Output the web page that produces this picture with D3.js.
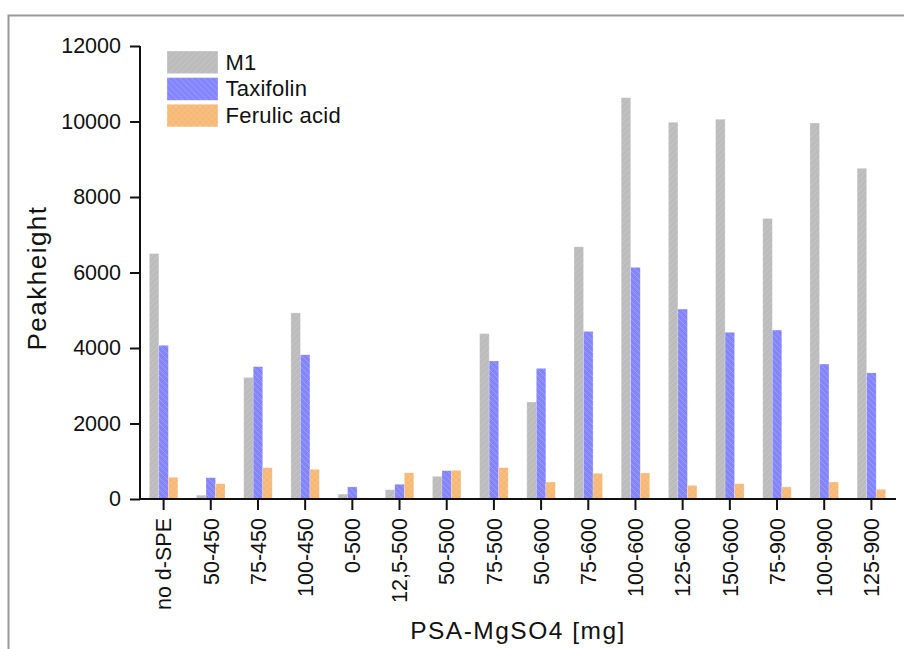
<!DOCTYPE html>
<html>
<head>
<meta charset="utf-8">
<script src="https://cdn.jsdelivr.net/npm/d3@7"></script>
<style>
  html, body { margin: 0; padding: 0; background: #fff; }
  svg { display: block; }
  text { font-family: "Liberation Sans", Arial, sans-serif; fill: #111; }
</style>
</head>
<body>
<svg id="chart" width="904" height="649"></svg>
<script>
// PSA-MgSO4 combinations (mg) used for the clean-up
const categories = ["no d-SPE", "50-450", "75-450", "100-450", "0-500", "12,5-500", "50-500",
  "75-500", "50-600", "75-600", "100-600", "125-600", "150-600", "75-900", "100-900", "125-900"];

// Peak heights per analyte
const m1 = [6500, 100, 3220, 4930, 130, 245, 600, 4380, 2570, 6680, 10630, 9980, 10060, 7430, 9960, 8760];
const taxifolin = [4070, 565, 3505, 3820, 320, 390, 750, 3655, 3460, 4440, 6135, 5030, 4415, 4475, 3575, 3340];
const ferulic = [575, 405, 830, 785, 30, 695, 760, 830, 450, 680, 690, 360, 405, 320, 450, 257];

const seriesNames = ["M1", "Taxifolin", "Ferulic acid"];
const yTicks = [0, 2000, 4000, 6000, 8000, 10000, 12000];

const series = [
  { name: seriesNames[0], values: m1, fill: "url(#hatch-gray)" },
  { name: seriesNames[1], values: taxifolin, fill: "url(#hatch-blue)" },
  { name: seriesNames[2], values: ferulic, fill: "url(#hatch-orange)" }
];

const svg = d3.select("#chart");
const defs = svg.append("defs");

// Hatched fills
function diagPattern(id, base, line, dir) {
  const p = defs.append("pattern").attr("id", id).attr("patternUnits", "userSpaceOnUse")
    .attr("width", 6).attr("height", 6);
  p.append("rect").attr("width", 6).attr("height", 6).attr("fill", base);
  const d = dir > 0 ? "M-1,7 L7,-1 M-4,4 L4,-4 M2,10 L10,2" : "M-1,-1 L7,7 M-4,2 L4,10 M2,-4 L10,4";
  p.append("path").attr("d", d).attr("stroke", line).attr("stroke-width", 0.8).attr("fill", "none");
}
diagPattern("hatch-gray", "#bcbcbc", "#c9c9c9", 1);
diagPattern("hatch-blue", "#8484fb", "#a3a3ff", -1);
(function () {
  const p = defs.append("pattern").attr("id", "hatch-orange").attr("patternUnits", "userSpaceOnUse")
    .attr("width", 6).attr("height", 6);
  p.append("rect").attr("width", 6).attr("height", 6).attr("fill", "#f6b876");
  p.append("path").attr("d", "M-1,7 L7,-1 M-1,-1 L7,7").attr("stroke", "#f9c791")
    .attr("stroke-width", 0.6).attr("fill", "none");
})();

// Outer frame
svg.append("path").attr("d", "M8.5,649 L8.5,15.5 L904,15.5")
  .attr("fill", "none").attr("stroke", "#999").attr("stroke-width", 2);

const plot = { left: 140, right: 895, top: 46, bottom: 499 };

const x = d3.scaleBand().domain(categories).range([plot.left, plot.right]).paddingInner(0).paddingOuter(0);
const y = d3.scaleLinear().domain([0, 12000]).range([plot.bottom, plot.top]);
const barW = 9.5;
const xs = d3.scaleBand().domain(seriesNames).range([0, barW * 3]);

// Bars
series.forEach((s) => {
  svg.append("g").selectAll("rect").data(s.values).join("rect")
    .attr("x", (d, i) => x(categories[i]) + x.bandwidth() / 2 - barW * 1.5 + xs(s.name))
    .attr("y", d => y(d))
    .attr("width", xs.bandwidth())
    .attr("height", d => y(0) - y(d))
    .attr("fill", s.fill)
    .attr("stroke", "rgba(255,255,255,0.35)")
    .attr("stroke-width", 0.6);
});

const tickFont = "21.5px";

// Y axis
const yAxis = svg.append("g").attr("transform", `translate(${plot.left},0)`)
  .call(d3.axisLeft(y).tickValues(yTicks).tickSize(10).tickPadding(9).tickFormat(d3.format("d")));
yAxis.select(".domain").attr("stroke", "#111").attr("stroke-width", 2).attr("d", `M0,${plot.top}V${plot.bottom}`);
yAxis.selectAll(".tick line").attr("stroke", "#111").attr("stroke-width", 2);
yAxis.selectAll(".tick text").style("font-size", tickFont).attr("fill", "#111")
  .style("font-family", "'Liberation Sans', Arial, sans-serif");

// X axis
const xAxis = svg.append("g").attr("transform", `translate(0,${plot.bottom})`)
  .call(d3.axisBottom(x).tickSize(11).tickPadding(8));
xAxis.select(".domain").attr("stroke", "#111").attr("stroke-width", 2).attr("d", `M${plot.left},0H${plot.right + 1}`);
xAxis.selectAll(".tick line").attr("stroke", "#111").attr("stroke-width", 2);
xAxis.selectAll(".tick text")
  .style("font-size", tickFont).attr("fill", "#111")
  .style("font-family", "'Liberation Sans', Arial, sans-serif")
  .attr("text-anchor", "end").attr("dy", "0.36em")
  .attr("transform", "translate(0,19) rotate(-90)").attr("x", 0).attr("y", 0);

// Axis titles
svg.append("text").attr("transform", "translate(46,278) rotate(-90)")
  .attr("text-anchor", "middle").style("font-size", "26px").style("letter-spacing", "1.5px")
  .text("Peakheight");
svg.append("text").attr("x", 518).attr("y", 639)
  .attr("text-anchor", "middle").style("font-size", "24.5px").style("letter-spacing", "1.5px")
  .text("PSA-MgSO4 [mg]");

// Legend
const legend = svg.append("g").attr("transform", "translate(167,51)");
series.forEach((s, i) => {
  const g = legend.append("g").attr("transform", `translate(0,${i * 26.6})`);
  g.append("rect").attr("width", 51).attr("height", 22.7).attr("fill", s.fill)
    .attr("stroke", "rgba(255,255,255,0.5)").attr("stroke-width", 0.6);
  g.append("text").attr("x", 58.5).attr("y", 18.5).style("font-size", "22px")
    .style("letter-spacing", "0.25px").text(s.name);
});
</script>
</body>
</html>
